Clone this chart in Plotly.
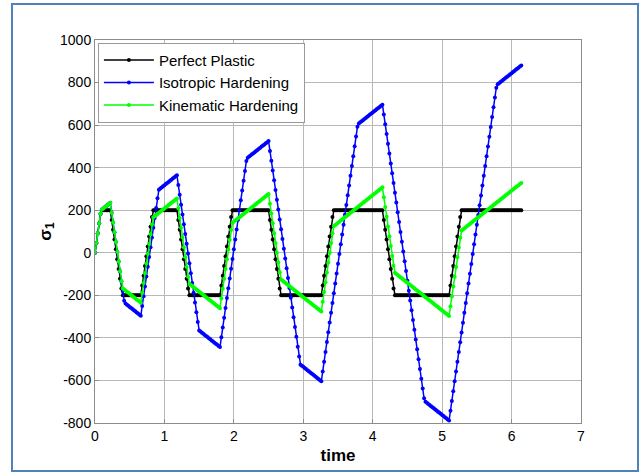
import plotly.graph_objects as go

perfect_plastic = [
    0, 46, 92, 138, 184, 200, 200, 200, 200, 200,
    200, 200, 154, 108, 62, 16, -30, -76, -122, -168,
    -200, -200, -200, -200, -200, -200, -200, -200, -200, -200,
    -200, -200, -200, -200, -154, -108, -62, -16, 30, 76,
    122, 168, 200, 200, 200, 200, 200, 200, 200, 200,
    200, 200, 200, 200, 200, 200, 200, 200, 200, 200,
    154, 108, 62, 16, -30, -76, -122, -168, -200, -200,
    -200, -200, -200, -200, -200, -200, -200, -200, -200, -200,
    -200, -200, -200, -200, -200, -200, -200, -200, -200, -200,
    -200, -154, -108, -62, -16, 30, 76, 122, 168, 200,
    200, 200, 200, 200, 200, 200, 200, 200, 200, 200,
    200, 200, 200, 200, 200, 200, 200, 200, 200, 200,
    200, 200, 200, 200, 200, 200, 154, 108, 62, 16,
    -30, -76, -122, -168, -200, -200, -200, -200, -200, -200,
    -200, -200, -200, -200, -200, -200, -200, -200, -200, -200,
    -200, -200, -200, -200, -200, -200, -200, -200, -200, -200,
    -200, -200, -200, -200, -154, -108, -62, -16, 30, 76,
    122, 168, 200, 200, 200, 200, 200, 200, 200, 200,
    200, 200, 200, 200, 200, 200, 200, 200, 200, 200,
    200, 200, 200, 200, 200, 200, 200, 200, 200, 200,
    200, 200, 200, 200, 200, 200, 200, 200, 154, 108,
    62, 16, -30, -76, -122, -168, -200, -200, -200, -200,
    -200, -200, -200, -200, -200, -200, -200, -200, -200, -200,
    -200, -200, -200, -200, -200, -200, -200, -200, -200, -200,
    -200, -200, -200, -200, -200, -200, -200, -200, -200, -200,
    -200, -200, -200, -200, -200, -200, -154, -108, -62, -16,
    30, 76, 122, 168, 200, 200, 200, 200, 200, 200,
    200, 200, 200, 200, 200, 200, 200, 200, 200, 200,
    200, 200, 200, 200, 200, 200, 200, 200, 200, 200,
    200, 200, 200, 200, 200, 200, 200, 200, 200, 200,
    200, 200, 200, 200, 200, 200, 200, 200,
]

isotropic_hardening = [
    0, 46, 92, 138, 184, 203.4, 208.6, 213.8, 219.0, 224.2,
    229.4, 234.6, 188.6, 142.6, 96.6, 50.6, 4.6, -41.4, -87.4, -133.4,
    -179.4, -225.4, -238.8, -244.0, -249.2, -254.4, -259.6, -264.8, -270.0, -275.2,
    -280.4, -285.6, -290.8, -296.0, -250.0, -204.0, -158.0, -112.0, -66.0, -20.0,
    26.0, 72.0, 118.0, 164.0, 210.0, 256.0, 296.7, 301.9, 307.1, 312.3,
    317.5, 322.7, 327.9, 333.1, 338.3, 343.5, 348.7, 353.9, 359.1, 364.3,
    318.3, 272.3, 226.3, 180.3, 134.3, 88.3, 42.3, -3.7, -49.7, -95.7,
    -141.7, -187.7, -233.7, -279.7, -325.7, -365.1, -370.3, -375.5, -380.7, -385.9,
    -391.1, -396.3, -401.5, -406.7, -411.9, -417.1, -422.3, -427.5, -432.7, -437.9,
    -443.1, -397.1, -351.1, -305.1, -259.1, -213.1, -167.1, -121.1, -75.1, -29.1,
    16.9, 62.9, 108.9, 154.9, 200.9, 246.9, 292.9, 338.9, 384.9, 430.9,
    446.9, 452.1, 457.3, 462.5, 467.7, 472.9, 478.1, 483.3, 488.5, 493.7,
    498.9, 504.1, 509.3, 514.5, 519.7, 524.9, 478.9, 432.9, 386.9, 340.9,
    294.9, 248.9, 202.9, 156.9, 110.9, 64.9, 18.9, -27.1, -73.1, -119.1,
    -165.1, -211.1, -257.1, -303.1, -349.1, -395.1, -441.1, -487.1, -525.8, -531.0,
    -536.2, -541.4, -546.6, -551.8, -557.0, -562.2, -567.4, -572.6, -577.8, -583.0,
    -588.2, -593.4, -598.6, -603.8, -557.8, -511.8, -465.8, -419.8, -373.8, -327.8,
    -281.8, -235.8, -189.8, -143.8, -97.8, -51.8, -5.8, 40.2, 86.2, 132.2,
    178.2, 224.2, 270.2, 316.2, 362.2, 408.2, 454.2, 500.2, 546.2, 592.2,
    607.7, 612.9, 618.1, 623.3, 628.5, 633.7, 638.9, 644.1, 649.3, 654.5,
    659.7, 664.9, 670.1, 675.3, 680.5, 685.7, 690.9, 696.1, 650.1, 604.1,
    558.1, 512.1, 466.1, 420.1, 374.1, 328.1, 282.1, 236.1, 190.1, 144.1,
    98.1, 52.1, 6.1, -39.9, -85.9, -131.9, -177.9, -223.9, -269.9, -315.9,
    -361.9, -407.9, -453.9, -499.9, -545.9, -591.9, -637.9, -683.9, -699.9, -705.1,
    -710.3, -715.5, -720.7, -725.9, -731.1, -736.3, -741.5, -746.7, -751.9, -757.1,
    -762.3, -767.5, -772.7, -777.9, -783.1, -788.3, -742.3, -696.3, -650.3, -604.3,
    -558.3, -512.3, -466.3, -420.3, -374.3, -328.3, -282.3, -236.3, -190.3, -144.3,
    -98.3, -52.3, -6.3, 39.7, 85.7, 131.7, 177.7, 223.7, 269.7, 315.7,
    361.7, 407.7, 453.7, 499.7, 545.7, 591.7, 637.7, 683.7, 729.7, 775.7,
    792.1, 797.3, 802.5, 807.7, 812.9, 818.1, 823.3, 828.5, 833.7, 838.9,
    844.1, 849.3, 854.5, 859.7, 864.9, 870.1, 875.3, 880.5,
]

kinematic_hardening = [
    0, 46, 92, 138, 184, 203.4, 208.6, 213.8, 219.0, 224.2,
    229.4, 234.6, 188.6, 142.6, 96.6, 50.6, 4.6, -41.4, -87.4, -133.4,
    -167.0, -172.2, -177.4, -182.6, -187.8, -193.0, -198.2, -203.4, -208.6, -213.8,
    -219.0, -224.2, -229.4, -234.6, -188.6, -142.6, -96.6, -50.6, -4.6, 41.4,
    87.4, 133.4, 167.0, 172.2, 177.4, 182.6, 187.8, 193.0, 198.2, 203.4,
    208.6, 213.8, 219.0, 224.2, 229.4, 234.6, 239.8, 245.0, 250.2, 255.4,
    209.4, 163.4, 117.4, 71.4, 25.4, -20.6, -66.6, -112.6, -146.2, -151.4,
    -156.6, -161.8, -167.0, -172.2, -177.4, -182.6, -187.8, -193.0, -198.2, -203.4,
    -208.6, -213.8, -219.0, -224.2, -229.4, -234.6, -239.8, -245.0, -250.2, -255.4,
    -260.6, -214.6, -168.6, -122.6, -76.6, -30.6, 15.4, 61.4, 107.4, 141.0,
    146.2, 151.4, 156.6, 161.8, 167.0, 172.2, 177.4, 182.6, 187.8, 193.0,
    198.2, 203.4, 208.6, 213.8, 219.0, 224.2, 229.4, 234.6, 239.8, 245.0,
    250.2, 255.4, 260.6, 265.8, 271.0, 276.2, 230.2, 184.2, 138.2, 92.2,
    46.2, 0.2, -45.8, -91.8, -125.4, -130.6, -135.8, -141.0, -146.2, -151.4,
    -156.6, -161.8, -167.0, -172.2, -177.4, -182.6, -187.8, -193.0, -198.2, -203.4,
    -208.6, -213.8, -219.0, -224.2, -229.4, -234.6, -239.8, -245.0, -250.2, -255.4,
    -260.6, -265.8, -271.0, -276.2, -230.2, -184.2, -138.2, -92.2, -46.2, -0.2,
    45.8, 91.8, 125.4, 130.6, 135.8, 141.0, 146.2, 151.4, 156.6, 161.8,
    167.0, 172.2, 177.4, 182.6, 187.8, 193.0, 198.2, 203.4, 208.6, 213.8,
    219.0, 224.2, 229.4, 234.6, 239.8, 245.0, 250.2, 255.4, 260.6, 265.8,
    271.0, 276.2, 281.4, 286.6, 291.8, 297.0, 302.2, 307.4, 261.4, 215.4,
    169.4, 123.4, 77.4, 31.4, -14.6, -60.6, -94.2, -99.4, -104.6, -109.8,
    -115.0, -120.2, -125.4, -130.6, -135.8, -141.0, -146.2, -151.4, -156.6, -161.8,
    -167.0, -172.2, -177.4, -182.6, -187.8, -193.0, -198.2, -203.4, -208.6, -213.8,
    -219.0, -224.2, -229.4, -234.6, -239.8, -245.0, -250.2, -255.4, -260.6, -265.8,
    -271.0, -276.2, -281.4, -286.6, -291.8, -297.0, -251.0, -205.0, -159.0, -113.0,
    -67.0, -21.0, 25.0, 71.0, 104.6, 109.8, 115.0, 120.2, 125.4, 130.6,
    135.8, 141.0, 146.2, 151.4, 156.6, 161.8, 167.0, 172.2, 177.4, 182.6,
    187.8, 193.0, 198.2, 203.4, 208.6, 213.8, 219.0, 224.2, 229.4, 234.6,
    239.8, 245.0, 250.2, 255.4, 260.6, 265.8, 271.0, 276.2, 281.4, 286.6,
    291.8, 297.0, 302.2, 307.4, 312.6, 317.8, 323.0, 328.2,
]

time_step = 0.02
time = [round(i * time_step, 2) for i in range(len(perfect_plastic))]

series_names = ["Perfect Plastic", "Isotropic Hardening", "Kinematic Hardening"]
series_values = [perfect_plastic, isotropic_hardening, kinematic_hardening]
series_colors = ["#000000", "#0000FF", "#00FF00"]

x_ticks = [0, 1, 2, 3, 4, 5, 6, 7]
x_tick_labels = ["0", "1", "2", "3", "4", "5", "6", "7"]
y_ticks = [-800, -600, -400, -200, 0, 200, 400, 600, 800, 1000]
y_tick_labels = ["-800", "-600", "-400", "-200", "0", "200", "400", "600", "800", "1000"]

FONT = "Arial, 'Liberation Sans', Helvetica, sans-serif"

fig = go.Figure()
for name, vals, col in zip(series_names, series_values, series_colors):
    fig.add_trace(go.Scatter(
        x=time, y=vals, name=name, mode="lines+markers",
        line=dict(color=col, width=1.5),
        marker=dict(color=col, size=4, line=dict(width=0)),
    ))

axis_common = dict(
    showgrid=True, gridcolor="#b8b8b8", gridwidth=1,
    showline=True, linecolor="#8c8c8c", linewidth=1, mirror=True,
    ticks="inside", ticklen=4, tickcolor="#8c8c8c",
    zeroline=False,
    tickfont=dict(family=FONT, size=14, color="#000000"),
)

fig.update_layout(
    width=642, height=475,
    margin=dict(l=95, r=61, t=40, b=52),
    paper_bgcolor="#ffffff", plot_bgcolor="#ffffff",
    font=dict(family=FONT, color="#000000"),
    showlegend=True,
    legend=dict(
        x=0.006, y=0.993, xanchor="left", yanchor="top",
        bgcolor="#ffffff", bordercolor="#999999", borderwidth=1,
        font=dict(family=FONT, size=15, color="#000000"),
        tracegroupgap=0, itemwidth=50,
    ),
    xaxis=dict(
        range=[0, 7], tickvals=x_ticks, ticktext=x_tick_labels, **axis_common,
        title=dict(text="<b>time</b>", font=dict(family=FONT, size=17), standoff=6),
    ),
    yaxis=dict(
        range=[-800, 1000], tickvals=y_ticks, ticktext=y_tick_labels, **axis_common,
        title=dict(text="<b>σ<sub>1</sub></b>", font=dict(family=FONT, size=17), standoff=4),
    ),
    shapes=[dict(
        type="rect", xref="paper", yref="paper",
        x0=(12 - 95) / 486, x1=(638 - 95) / 486,
        y0=(423 - 471) / 383, y1=(423 - 4) / 383,
        line=dict(color="#4F81BD", width=2), fillcolor="rgba(0,0,0,0)",
        layer="below",
    )],
)

fig.write_html("out.html")
